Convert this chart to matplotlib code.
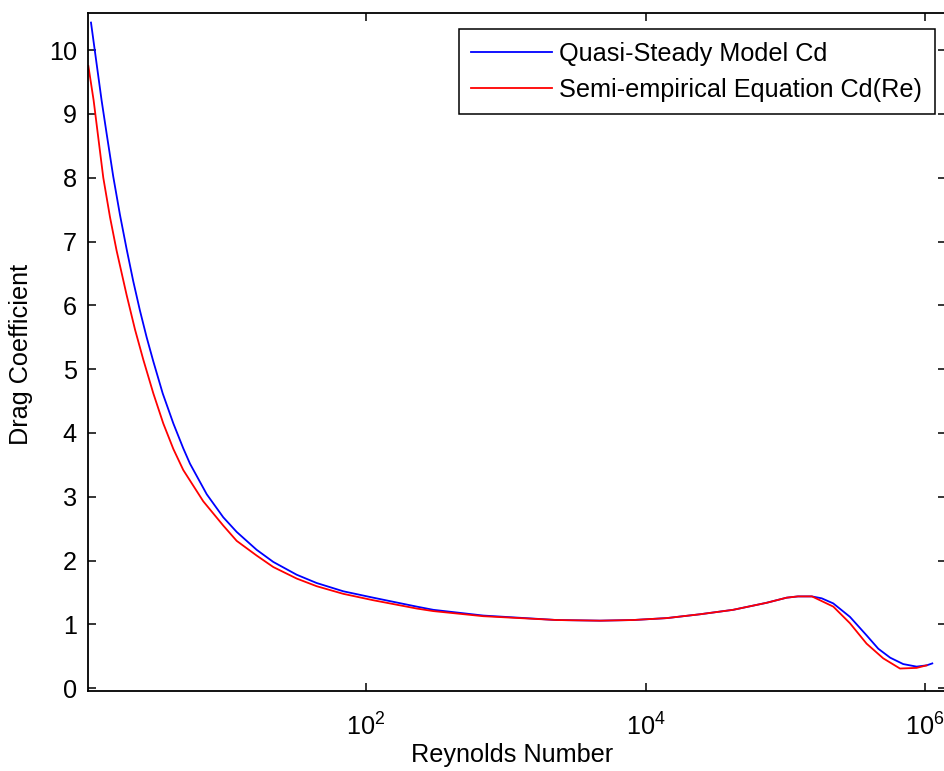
import matplotlib
matplotlib.use("Agg")
import matplotlib.pyplot as plt
from matplotlib.ticker import FixedLocator, NullLocator

plt.rcParams["font.family"] = ["Liberation Sans", "DejaVu Sans"]
plt.rcParams["mathtext.fontset"] = "custom"
plt.rcParams["mathtext.rm"] = "Liberation Sans"
plt.rcParams["mathtext.it"] = "Liberation Sans"

# Quasi-steady model (blue)
re_model = [1.079, 1.285, 1.396, 1.556, 1.738, 1.941, 2.163, 2.415, 2.698, 3.013,
            3.516, 4.188, 4.932, 5.508, 7.261, 9.528, 11.89, 16.52, 21.73, 31.92,
            44.36, 68.87, 112.7, 230.7, 302.7,
            690, 2312, 4721, 8166, 14160, 24490, 42360, 73450, 102100, 123000,
            154900, 182000, 220300, 289700, 381100, 462400, 562300, 696600,
            868900, 1026000, 1125000]
cd_model = [10.43, 9.21, 8.69, 8.02, 7.42, 6.88, 6.38, 5.92, 5.50, 5.12,
            4.62, 4.15, 3.76, 3.52, 3.04, 2.68, 2.45, 2.17, 1.98, 1.78,
            1.65, 1.52, 1.42, 1.28, 1.23,
            1.14, 1.07, 1.06, 1.07, 1.10, 1.16, 1.23, 1.34, 1.42, 1.44,
            1.44, 1.41, 1.33, 1.12, 0.83, 0.62, 0.48, 0.38,
            0.34, 0.36, 0.39]

# semi-empirical Cd(Re) (red)
re_emp = [1.033, 1.127, 1.216, 1.321, 1.476, 1.644, 1.941, 2.228, 2.553, 3.013,
          3.548, 4.188, 4.932, 6.855, 9.528, 11.89, 16.52, 21.73, 31.92, 44.36,
          68.87, 112.7, 230.7, 302.7,
          690, 2312, 4721, 8166, 14160, 24490, 42360, 73450, 102100, 123000,
          154900, 220300, 289700, 381100, 501200, 660700, 868900, 1026000]
cd_emp = [9.75, 9.21, 8.63, 8.00, 7.38, 6.86, 6.16, 5.62, 5.15, 4.62,
          4.15, 3.75, 3.42, 2.93, 2.55, 2.31, 2.08, 1.90, 1.72, 1.60,
          1.48, 1.38, 1.25, 1.21,
          1.13, 1.07, 1.06, 1.07, 1.10, 1.16, 1.23, 1.34, 1.42, 1.44,
          1.44, 1.28, 1.02, 0.70, 0.47, 0.31, 0.32, 0.36]

fs = 18.2

fig = plt.figure(figsize=(9.45, 7.71), dpi=100)
ax = fig.add_axes([88 / 945, 1 - 691 / 771, 858 / 945, 678 / 771])

ax.plot(re_model, cd_model, color="#0000ff", lw=1.3, label="Quasi-Steady Model Cd")
ax.plot(re_emp, cd_emp, color="#ff0000", lw=1.3, label="Semi-empirical Equation Cd(Re)")

ax.set_xscale("log")
ax.set_xlim(1.027, 1.41e6)
ax.set_ylim(-0.042, 10.58)
ax.xaxis.set_major_locator(FixedLocator([1e2, 1e4, 1e6]))
ax.xaxis.set_minor_locator(NullLocator())
ax.set_yticks(range(0, 11))

ax.tick_params(which="both", direction="in", top=True, right=True,
               length=6, width=1.1, labelsize=fs, color="black")
ax.tick_params(axis="x", pad=16)
ax.tick_params(axis="y", pad=8)
for sp in ax.spines.values():
    sp.set_linewidth(1.3)
    sp.set_color("black")

ax.set_xlabel("Reynolds Number", fontsize=fs)
ax.set_ylabel("Drag Coefficient", fontsize=fs)
ax.xaxis.set_label_coords(0.494, -0.076)
ax.yaxis.set_label_coords(-0.064, 0.496)

leg = ax.legend(loc="upper right", bbox_to_anchor=(0.9872, 0.9764), borderaxespad=0,
                fontsize=fs, frameon=True, fancybox=False, edgecolor="black",
                framealpha=1, handlelength=3.2, handletextpad=0.28,
                labelspacing=0.47, borderpad=0.5)
leg.get_frame().set_linewidth(1.1)

fig.savefig("out.png", dpi=100, facecolor="white")
